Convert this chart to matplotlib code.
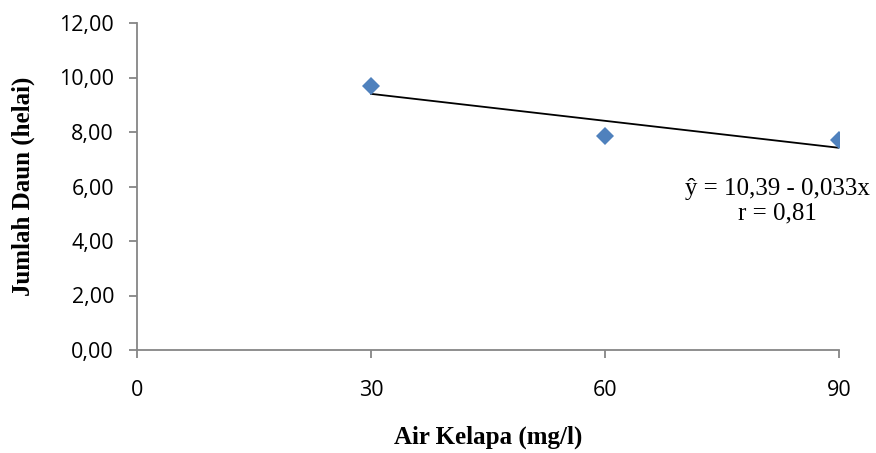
import numpy as np
import matplotlib
matplotlib.use("Agg")
import matplotlib.pyplot as plt

# data
konsentrasi = [30, 60, 90]          # Air Kelapa (mg/l)
jumlah_daun = [9.69, 7.85, 7.69]    # Jumlah Daun (helai)
a, b = 10.39, -0.033                # y = a + b x
x_ticks = [0, 30, 60, 90]
y_ticks = [0, 2, 4, 6, 8, 10, 12]

fig = plt.figure(figsize=(8.76, 4.53), dpi=100)
ax = fig.add_axes([137/876, 1 - 350/453, (839 - 137)/876, (350 - 23)/453])

# garis regresi
xs = np.array([konsentrasi[0], konsentrasi[-1]])
ax.plot(xs, a + b*xs, color='black', lw=1.3, zorder=2)

ax.plot(konsentrasi, jumlah_daun, 'D', color='#4F81BD', ms=9, mew=0, zorder=3)

ax.set_xlim(0, 90)
ax.set_ylim(0, 12)
ax.set_xticks(x_ticks)
ax.set_yticks(y_ticks)
ax.set_xticklabels([str(v) for v in x_ticks])
ax.set_yticklabels([f"{v:.2f}".replace('.', ',') for v in y_ticks])

for s in ['top', 'right']:
    ax.spines[s].set_visible(False)
for s in ['left', 'bottom']:
    ax.spines[s].set_color('#868686')
    ax.spines[s].set_linewidth(1.3)

ax.tick_params(axis='both', colors='#868686', width=1.3, length=5.5,
               labelcolor='black', labelsize=15.5)
ax.tick_params(axis='x', pad=16)
ax.tick_params(axis='y', pad=11)
for lab in ax.get_xticklabels() + ax.get_yticklabels():
    lab.set_family('Open Sans')

ax.set_xlabel('Air Kelapa (mg/l)', family='Liberation Serif', fontweight='bold',
              fontsize=18, labelpad=17.5)
ax.set_ylabel('Jumlah Daun (helai)', family='Liberation Serif', fontweight='bold',
              fontsize=18, labelpad=17.5)

ax.text(0.913, 0.455, 'ŷ = 10,39 - 0,033x\nr = 0,81', transform=ax.transAxes,
        ha='center', va='center', family='Liberation Serif', fontsize=18,
        linespacing=1.15)

fig.savefig('out.png', dpi=100)
